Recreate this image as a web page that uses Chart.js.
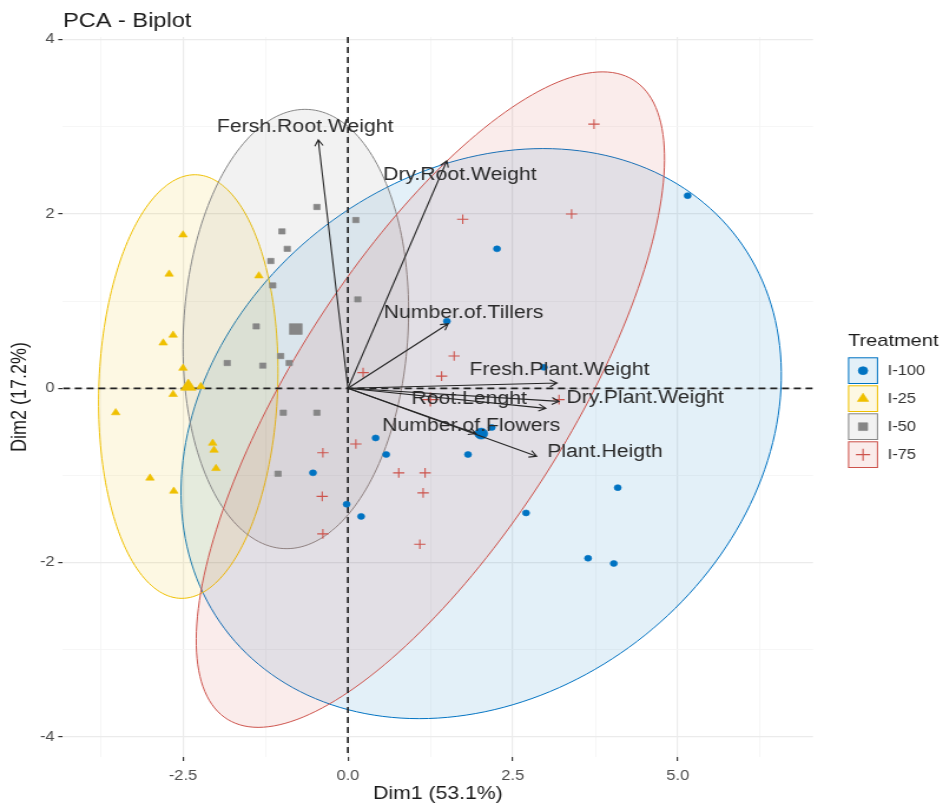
<!DOCTYPE html>
<html>
<head>
<meta charset="utf-8">
<title>PCA - Biplot</title>
<script src="https://cdn.jsdelivr.net/npm/chart.js@4.4.1/dist/chart.umd.min.js"></script>
<style>
  html, body { margin: 0; padding: 0; background: #fff; overflow: hidden; }
  #wrap { width: 943px; height: 805px; overflow: hidden; }
  /* the figure is laid out on an 800px-wide canvas and widened to 943px */
  #biplot { display: block; transform: scaleX(1.17875); transform-origin: 0 0; }
</style>
</head>
<body>
<div id="wrap"><canvas id="biplot" width="800" height="805"></canvas></div>
<script>
// ---- treatments ----
const groups = ['I-100', 'I-25', 'I-50', 'I-75'];
const groupColors = ['#0073C2', '#EFC000', '#868686', '#CD534C'];
const groupShapes = ['circle', 'triangle', 'rect', 'cross'];

// ---- individual scores (Dim1, Dim2) ----
const dim1_I100 = [5.15, 2.26, 1.50, 2.97, 2.18, 1.82, 4.09, 2.70, 3.64, 4.03, 0.42, 0.58, -0.53, -0.02, 0.20];
const dim2_I100 = [2.21, 1.60, 0.77, 0.24, -0.45, -0.76, -1.14, -1.43, -1.95, -2.01, -0.57, -0.76, -0.97, -1.33, -1.47];

const dim1_I25 = [-2.50, -2.71, -1.35, -2.65, -2.80, -2.50, -2.23, -2.65, -3.52, -2.05, -2.03, -2.00, -3.00, -2.64];
const dim2_I25 = [1.76, 1.31, 1.29, 0.61, 0.52, 0.23, 0.02, -0.07, -0.28, -0.63, -0.71, -0.92, -1.03, -1.18];

const dim1_I50 = [-0.47, 0.12, -1.00, -0.92, -1.17, -1.14, 0.15, -1.39, -1.02, -1.83, -1.29, -0.89, -0.98, -0.47, -1.06];
const dim2_I50 = [2.08, 1.93, 1.80, 1.60, 1.46, 1.18, 1.02, 0.71, 0.37, 0.29, 0.26, 0.29, -0.28, -0.28, -0.98];

const dim1_I75 = [3.73, 3.39, 1.74, 1.61, 1.42, 3.20, 0.23, 0.12, -0.38, 0.77, 1.17, 1.14, -0.39, -0.38, 1.09];
const dim2_I75 = [3.03, 2.00, 1.94, 0.37, 0.14, -0.13, 0.18, -0.64, -0.74, -0.97, -0.97, -1.20, -1.24, -1.67, -1.79];

// ---- group centres ----
const meanDim1 = [2.02, -2.42, -0.79, 1.25];
const meanDim2 = [-0.52, 0.02, 0.68, -0.13];

// ---- concentration ellipses: half extent along Dim1 / Dim2, Dim1 shift of the top point ----
const ellipseHalfDim1 = [4.55, 1.36, 1.71, 3.55];
const ellipseHalfDim2 = [3.27, 2.43, 2.52, 3.76];
const ellipseTopShift = [0.94, 0.10, 0.14, 2.61];

// ---- variable loadings ----
const varNames = ['Fersh.Root.Weight', 'Dry.Root.Weight', 'Number.of.Tillers', 'Fresh.Plant.Weight',
                  'Root.Lenght', 'Dry.Plant.Weight', 'Number.of.Flowers', 'Plant.Heigth'];
const varDim1 = [-0.45, 1.50, 1.52, 3.17, 3.00, 3.20, 1.94, 2.86];
const varDim2 = [2.85, 2.61, 0.74, 0.06, -0.23, -0.15, -0.52, -0.78];

// ---- axis ticks ----
const xMajor = [-2.5, 0, 2.5, 5];
const xTickLabels = ['-2.5', '0.0', '2.5', '5.0'];
const xMinor = [-3.75, -1.25, 1.25, 3.75, 6.25];
const yMajor = [-4, -2, 0, 2, 4];
const yTickLabels = ['-4', '-2', '0', '2', '4'];
const yMinor = [-3, -1, 1, 3];

// label nudges (px) relative to each arrow tip, so the names do not collide
const labelNudge = [[-11, -13], [11, 14], [13, -11], [2, -13], [-65, -9], [73, -3], [-4, -8], [58, -4]];

const FONT = "'Liberation Sans', Arial, Helvetica, sans-serif";
Chart.defaults.font.family = FONT;

function rgba(hex, a) {
  const n = parseInt(hex.slice(1), 16);
  return `rgba(${(n >> 16) & 255},${(n >> 8) & 255},${n & 255},${a})`;
}
const ELLIPSE_ALPHA = 0.11;

const pointRadius = { circle: 3, triangle: 4.2, rect: 3.8, cross: 4.8 };
const meanRadius = { circle: 5.5, triangle: 7.5, rect: 7.6, cross: 7 };

const groupDim1 = [dim1_I100, dim1_I25, dim1_I50, dim1_I75];
const groupDim2 = [dim2_I100, dim2_I25, dim2_I50, dim2_I75];

const datasets = [];
groups.forEach((g, i) => {
  const shape = groupShapes[i];
  datasets.push({
    label: g,
    data: groupDim1[i].map((v, k) => ({ x: v, y: groupDim2[i][k] })),
    pointStyle: shape,
    pointRadius: pointRadius[shape],
    backgroundColor: groupColors[i],
    borderColor: groupColors[i],
    borderWidth: shape === 'cross' ? 1.1 : 0.6
  });
});
groups.forEach((g, i) => {
  const shape = groupShapes[i];
  datasets.push({
    label: g + ' (centre)',
    data: [{ x: meanDim1[i], y: meanDim2[i] }],
    pointStyle: shape,
    pointRadius: meanRadius[shape],
    backgroundColor: groupColors[i],
    borderColor: groupColors[i],
    borderWidth: shape === 'cross' ? 1.3 : 0.6
  });
});

function drawArrow(ctx, x0, y0, x1, y1) {
  const ang = Math.atan2(y1 - y0, x1 - x0);
  const L = 7, spread = Math.PI / 6;
  ctx.beginPath();
  ctx.moveTo(x0, y0);
  ctx.lineTo(x1, y1);
  ctx.moveTo(x1 - L * Math.cos(ang - spread), y1 - L * Math.sin(ang - spread));
  ctx.lineTo(x1, y1);
  ctx.lineTo(x1 - L * Math.cos(ang + spread), y1 - L * Math.sin(ang + spread));
  ctx.stroke();
}

const biplotLayers = {
  id: 'biplotLayers',
  afterLayout(chart) {
    // start the title at the left edge of the plotting panel
    if (chart.titleBlock) chart.titleBlock.left = chart.chartArea.left;
  },
  beforeDatasetsDraw(chart) {
    const { ctx, chartArea: a, scales: { x, y } } = chart;
    ctx.save();
    ctx.beginPath();
    ctx.rect(a.left, a.top, a.width, a.height);
    ctx.clip();
    groups.forEach((g, i) => {
      const hw = ellipseHalfDim1[i], hh = ellipseHalfDim2[i], d = ellipseTopShift[i];
      const s1 = Math.sqrt(hw * hw - d * d);
      ctx.beginPath();
      const N = 200;
      for (let k = 0; k <= N; k++) {
        const t = (k / N) * 2 * Math.PI;
        const px = x.getPixelForValue(meanDim1[i] + s1 * Math.cos(t) + d * Math.sin(t));
        const py = y.getPixelForValue(meanDim2[i] + hh * Math.sin(t));
        if (k === 0) ctx.moveTo(px, py); else ctx.lineTo(px, py);
      }
      ctx.closePath();
      ctx.fillStyle = rgba(groupColors[i], ELLIPSE_ALPHA);
      ctx.fill();
      ctx.strokeStyle = groupColors[i];
      ctx.lineWidth = 1.0;
      ctx.stroke();
    });
    // dashed reference lines through the origin
    const x0 = x.getPixelForValue(0), y0 = y.getPixelForValue(0);
    ctx.setLineDash([6, 4]);
    ctx.strokeStyle = '#222';
    ctx.lineWidth = 1.7;
    ctx.beginPath();
    ctx.moveTo(a.left, y0); ctx.lineTo(a.right, y0);
    ctx.moveTo(x0, a.top); ctx.lineTo(x0, a.bottom);
    ctx.stroke();
    ctx.restore();
  },
  afterDatasetsDraw(chart) {
    const { ctx, scales: { x, y } } = chart;
    const ox = x.getPixelForValue(0), oy = y.getPixelForValue(0);
    ctx.save();
    ctx.strokeStyle = '#262626';
    ctx.lineWidth = 1.1;
    varNames.forEach((n, i) => {
      drawArrow(ctx, ox, oy, x.getPixelForValue(varDim1[i]), y.getPixelForValue(varDim2[i]));
    });
    ctx.fillStyle = '#2a2a2a';
    ctx.font = `18px ${FONT}`;
    ctx.textAlign = 'center';
    ctx.textBaseline = 'middle';
    varNames.forEach((n, i) => {
      const tx = x.getPixelForValue(varDim1[i]) + labelNudge[i][0];
      const ty = y.getPixelForValue(varDim2[i]) + labelNudge[i][1];
      ctx.fillText(n, tx, ty);
    });
    ctx.restore();
  },
  afterDraw(chart) {
    // legend
    const { ctx } = chart;
    const lx = 719.4, top = 357.3, step = 28, bw = 25.5, bh = 26.7;
    ctx.save();
    ctx.fillStyle = '#1a1a1a';
    ctx.font = `17px ${FONT}`;
    ctx.textAlign = 'left';
    ctx.textBaseline = 'middle';
    ctx.fillText('Treatment', lx, 341.5);
    groups.forEach((g, i) => {
      const by = top + i * step;
      ctx.fillStyle = '#ffffff';
      ctx.fillRect(lx, by, bw, bh);
      ctx.fillStyle = rgba(groupColors[i], ELLIPSE_ALPHA);
      ctx.fillRect(lx, by, bw, bh);
      ctx.strokeStyle = groupColors[i];
      ctx.lineWidth = 1.0;
      ctx.strokeRect(lx + 0.5, by + 0.5, bw - 1, bh - 1);
      ctx.fillStyle = groupColors[i];
      ctx.strokeStyle = groupColors[i];
      ctx.lineWidth = groupShapes[i] === 'cross' ? 1.1 : 0.6;
      Chart.helpers.drawPoint(ctx, {
        pointStyle: groupShapes[i],
        radius: groupShapes[i] === 'circle' ? 4 : (groupShapes[i] === 'cross' ? 6 : 5.5),
        rotation: 0,
        borderWidth: groupShapes[i] === 'cross' ? 1.1 : 0.6
      }, lx + bw / 2, by + bh / 2);
      ctx.fillStyle = '#333333';
      ctx.font = `14px ${FONT}`;
      ctx.fillText(g, 753, by + bh / 2);
    });
    ctx.restore();
  }
};

const xTickValues = [...xMinor, ...xMajor].sort((a, b) => a - b);
const yTickValues = [...yMinor, ...yMajor].sort((a, b) => a - b);

new Chart(document.getElementById('biplot'), {
  type: 'scatter',
  data: { datasets },
  options: {
    responsive: false,
    animation: false,
    events: [],
    layout: { padding: { left: 0, right: 110.3, top: 0, bottom: 0 } },
    plugins: {
      legend: { display: false },
      tooltip: { enabled: false },
      title: {
        display: true,
        text: 'PCA - Biplot',
        align: 'start',
        color: '#1a1a1a',
        font: { size: 20, weight: 'normal', family: FONT },
        padding: { top: 9, bottom: 4 }
      }
    },
    scales: {
      x: {
        type: 'linear',
        min: -4.32,
        max: 7.05,
        afterBuildTicks: (s) => { s.ticks = xTickValues.map(v => ({ value: v })); },
        afterFit: (s) => { s.height = 48; },
        border: { display: false },
        grid: {
          color: (c) => (c.tick && xMajor.includes(c.tick.value)) ? '#ebebeb' : '#f4f4f4',
          lineWidth: (c) => (c.tick && xMajor.includes(c.tick.value)) ? 1.2 : 0.8,
          tickColor: (c) => (c.tick && xMajor.includes(c.tick.value)) ? '#333333' : 'rgba(0,0,0,0)',
          tickLength: 4,
          tickWidth: 1.2
        },
        ticks: {
          autoSkip: false,
          maxRotation: 0,
          padding: 7,
          color: '#4d4d4d',
          font: { size: 14 },
          callback: (v) => { const k = xMajor.indexOf(v); return k >= 0 ? xTickLabels[k] : ''; }
        },
        title: {
          display: true,
          text: 'Dim1 (53.1%)',
          color: '#1a1a1a',
          font: { size: 18 },
          padding: { top: 0, bottom: 0 }
        }
      },
      y: {
        type: 'linear',
        min: -4.23,
        max: 4.03,
        afterBuildTicks: (s) => { s.ticks = yTickValues.map(v => ({ value: v })); },
        afterFit: (s) => { s.width = 53.4; },
        border: { display: false },
        grid: {
          color: (c) => (c.tick && yMajor.includes(c.tick.value)) ? '#ebebeb' : '#f4f4f4',
          lineWidth: (c) => (c.tick && yMajor.includes(c.tick.value)) ? 1.2 : 0.8,
          tickColor: (c) => (c.tick && yMajor.includes(c.tick.value)) ? '#333333' : 'rgba(0,0,0,0)',
          tickLength: 4,
          tickWidth: 1.2
        },
        ticks: {
          autoSkip: false,
          padding: 3,
          color: '#4d4d4d',
          font: { size: 14 },
          callback: (v) => { const k = yMajor.indexOf(v); return k >= 0 ? yTickLabels[k] : ''; }
        },
        title: {
          display: true,
          text: 'Dim2 (17.2%)',
          color: '#1a1a1a',
          font: { size: 18 },
          padding: { top: 6, bottom: 0 }
        }
      }
    }
  },
  plugins: [biplotLayers]
});
</script>
</body>
</html>
